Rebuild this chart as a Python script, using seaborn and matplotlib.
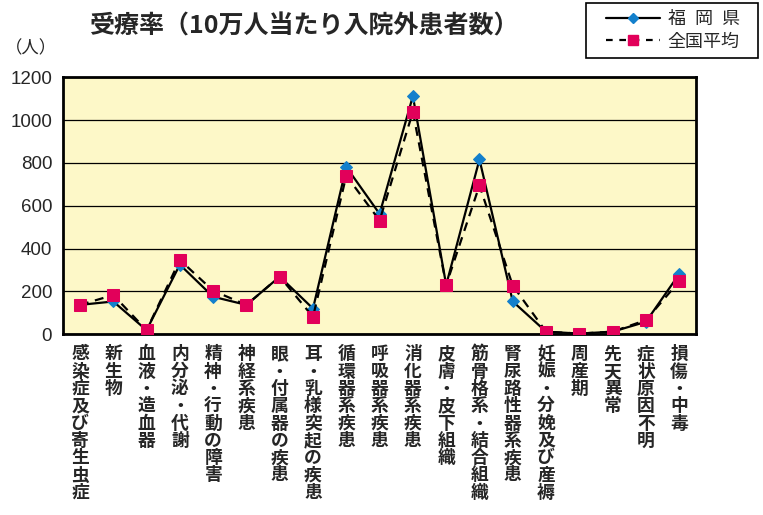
import numpy as np
import pandas as pd
import matplotlib
matplotlib.use("Agg")
import matplotlib.pyplot as plt
import seaborn as sns
from matplotlib.lines import Line2D
from matplotlib.patches import Rectangle
from matplotlib.ticker import MultipleLocator

# --- data ---
categories = [
    "感染症及び寄生虫症", "新生物", "血液・造血器", "内分泌・代謝",
    "精神・行動の障害", "神経系疾患", "眼・付属器の疾患", "耳・乳様突起の疾患",
    "循環器系疾患", "呼吸器系疾患", "消化器系疾患", "皮膚・皮下組織",
    "筋骨格系・結合組織", "腎尿路性器系疾患", "妊娠・分娩及び産褥", "周産期",
    "先天異常", "症状原因不明", "損傷・中毒",
]
fukuoka = [137, 153, 19, 325, 175, 137, 269, 120, 781, 562, 1112, 230,
           816, 153, 12, 3, 12, 58, 281]
national = [137, 183, 19, 347, 203, 137, 269, 81, 741, 531, 1039, 230,
            695, 227, 12, 3, 12, 66, 247]

series_names = ["福\u2002岡\u2002県", "全国平均"]
y_ticks = [0, 200, 400, 600, 800, 1000, 1200]

# colours
bg_yellow = "#fdf8c8"
blue = "#1380cc"
red = "#e2005a"

sns.set_style("white")
plt.rcParams['font.family'] = ['Noto Sans CJK JP', 'DejaVu Sans']

n = len(categories)
pos = np.arange(n)
df = pd.DataFrame({
    "pos": np.concatenate([pos, pos]),
    "value": fukuoka + national,
    "series": [series_names[0]] * n + [series_names[1]] * n,
})

fig = plt.figure(figsize=(7.63, 5.15), dpi=100)
ax = fig.add_axes([0.083, 0.351, 0.829, 0.499])
ax.set_facecolor(bg_yellow)

# Fukuoka: solid line, blue diamonds
sns.lineplot(data=df[df.series == series_names[0]], x="pos", y="value",
             color="black", lw=1.6, ax=ax, legend=False,
             marker="D", markersize=6.5, markerfacecolor=blue,
             markeredgecolor=blue, zorder=3)
# national average: dashed line, red squares
sns.lineplot(data=df[df.series == series_names[1]], x="pos", y="value",
             color="black", lw=1.6, ax=ax, legend=False, linestyle=(0, (4, 3)),
             marker="s", markersize=8.5, markerfacecolor=red,
             markeredgecolor=red, zorder=4)

ax.set_xlim(-0.5, n - 0.5)
ax.set_ylim(0, 1200)
ax.set_yticks(y_ticks)
ax.set_yticklabels([str(v) for v in y_ticks], fontsize=13.5,
                   family=["Liberation Sans", "DejaVu Sans"])
ax.yaxis.grid(True, color="black", lw=0.9)
ax.set_axisbelow(True)

ax.set_xticks(pos)
ax.set_xticklabels(["\n".join(c) for c in categories], fontsize=12.8,
                   fontweight="bold", linespacing=0.95, va="top")
ax.tick_params(axis="x", which="major", length=0, pad=8)
ax.tick_params(axis="y", length=0, pad=8)
ax.xaxis.set_minor_locator(MultipleLocator(1, offset=0.5))
ax.tick_params(axis="x", which="minor", direction="in", length=5, width=0.9,
               color="black")
ax.set_xlabel("")
ax.set_ylabel("")

for s in ax.spines.values():
    s.set_linewidth(2)
    s.set_color("black")

fig.text(0.398, 0.949, "受療率（10万人当たり入院外患者数）", ha="center",
         va="center", fontsize=18, fontweight="bold")
fig.text(0.041, 0.907, "（人）", ha="center", va="center", fontsize=12.5)

# legend box drawn separately so its padding matches the original
fig.patches.append(Rectangle((0.768, 0.887), 0.2255, 0.107,
                             transform=fig.transFigure, fill=False,
                             edgecolor="black", lw=1.2))
handles = [
    Line2D([], [], color="black", lw=1.6, marker="D", markersize=5.5,
           markerfacecolor=blue, markeredgecolor=blue),
    Line2D([], [], color="black", lw=1.6, linestyle=(0, (3, 3)), marker="s",
           markersize=7, markerfacecolor=red, markeredgecolor=red),
]
fig.legend(handles, series_names, loc="center",
           bbox_to_anchor=(0.882, 0.941), frameon=False,
           fontsize=13, handlelength=3, borderpad=0, labelspacing=0.25,
           handletextpad=0.4, borderaxespad=0)

fig.savefig("out.png", dpi=100)
